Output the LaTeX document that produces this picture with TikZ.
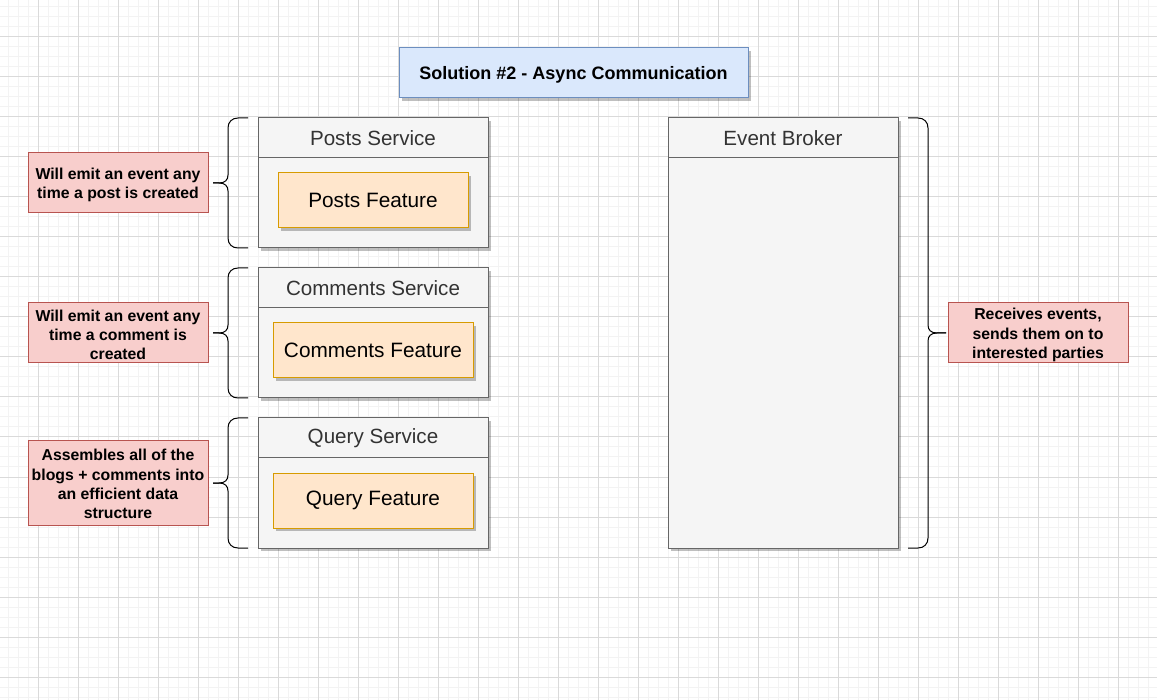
\documentclass[tikz,border=0pt]{standalone}
\usepackage{fontspec}
\setmainfont{Liberation Sans}
\usetikzlibrary{shadows}
\definecolor{gridminor}{HTML}{F3F3F3}
\definecolor{gridmajor}{HTML}{DADADA}
\definecolor{titlefill}{HTML}{DAE8FC}
\definecolor{titleborder}{HTML}{6C8EBF}
\definecolor{svcfill}{HTML}{F5F5F5}
\definecolor{svcborder}{HTML}{666666}
\definecolor{svctext}{HTML}{333333}
\definecolor{featfill}{HTML}{FFE6CC}
\definecolor{featborder}{HTML}{D79B00}
\definecolor{notefill}{HTML}{F8CECC}
\definecolor{noteborder}{HTML}{B85450}
\begin{document}
\begin{tikzpicture}[x=1pt,y=-1pt,
  shadowed/.style={drop shadow={shadow xshift=3pt,shadow yshift=-3pt,fill=black,opacity=0.25}},
  titlebox/.style={shadowed,draw=titleborder,fill=titlefill,line width=1pt,outer sep=0pt,inner sep=0pt,
    minimum width=349pt,minimum height=50pt,anchor=north west},
  titletext/.style={font=\fontsize{18}{22}\selectfont\bfseries,inner sep=0pt},
  svcbox/.style={shadowed,draw=svcborder,fill=svcfill,line width=1pt,outer sep=0pt,inner sep=0pt,
    minimum width=230pt,anchor=north west},
  svcline/.style={draw=svcborder,line width=1pt},
  svctitle/.style={text=svctext,font=\fontsize{20.6}{24}\selectfont,inner sep=0pt},
  featbox/.style={shadowed,draw=featborder,fill=featfill,line width=1pt,outer sep=0pt,inner sep=0pt,
    minimum height=55pt,font=\fontsize{20.8}{24}\selectfont,anchor=north west},
  notebox/.style={draw=noteborder,fill=notefill,line width=1pt,outer sep=0pt,inner sep=0pt,
    minimum width=180pt,anchor=north west},
  notetext/.style={align=center,font=\fontsize{15.8}{19.2}\selectfont\bfseries,inner sep=0pt},
  brace/.style={draw=black,line width=1pt}]
\useasboundingbox (0,0) rectangle (1157,700);
\fill[white] (0,0) rectangle (1157,700);
% grid
\foreach \x in {8,18,...,1158} \draw[gridminor,line width=1pt] (\x,0) -- (\x,700);
\foreach \y in {7,17,...,697} \draw[gridminor,line width=1pt] (0,\y) -- (1157,\y);
\foreach \x in {38,78,...,1158} \draw[gridmajor,line width=1pt] (\x,0) -- (\x,700);
\foreach \y in {37,77,...,677} \draw[gridmajor,line width=1pt] (0,\y) -- (1157,\y);

% title
\node[titlebox] (title) at (399,48) {};
\node[titletext] (titleT) at ([yshift=-2pt]title.center) {Solution \#2 - Async Communication};

% services
\node[svcbox,minimum height=130pt] (posts) at (258,118) {};
\node[svcbox,minimum height=130pt] (comments) at (258,268) {};
\node[svcbox,minimum height=130pt] (query) at (258,418) {};
\node[svcbox,minimum height=430pt] (broker) at (668,118) {};
\foreach \s in {posts,comments,query,broker}
  \draw[svcline] ([yshift=-40pt]\s.north west) -- ([yshift=-40pt]\s.north east);
\node[svctitle] (postsT) at ([yshift=-20pt]posts.north) {Posts Service};
\node[svctitle] (commentsT) at ([yshift=-20pt]comments.north) {Comments Service};
\node[svctitle] (queryT) at ([yshift=-20pt]query.north) {Query Service};
\node[svctitle] (brokerT) at ([yshift=-20pt]broker.north) {Event Broker};

% features
\node[featbox,minimum width=190pt] (postsF) at (278,173) {Posts Feature};
\node[featbox,minimum width=200pt] (commentsF) at (273,323) {Comments Feature};
\node[featbox,minimum width=200pt] (queryF) at (273,473) {Query Feature};

% notes
\node[notebox,minimum height=60pt] (n1) at (28,153) {};
\node[notetext] (n1T) at ([yshift=-2pt]n1.center) {Will emit an event any\\time a post is created};
\node[notebox,minimum height=60pt] (n2) at (28,303) {};
\node[notetext] (n2T) at ([yshift=-2pt]n2.center) {Will emit an event any\\time a comment is\\created};
\node[notebox,minimum height=84pt] (n3) at (28,441) {};
\node[notetext] (n3T) at ([yshift=-1pt]n3.center) {Assembles all of the\\blogs + comments into\\an efficient data\\structure};
\node[notebox,minimum height=60pt] (n4) at (948,303) {};
\node[notetext] (n4T) at ([yshift=-2pt]n4.center) {Receives events,\\sends them on to\\interested parties};

% left braces
\foreach \t in {118,268,418} {
  \draw[brace] (248,\t) -- (238,\t) .. controls (232,\t) and (228,\t+4) .. (228,\t+10)
    -- (228,\t+57) .. controls (228,\t+62) and (225,\t+65) .. (219,\t+65) -- (213,\t+65);
  \draw[brace] (213,\t+65) -- (219,\t+65) .. controls (225,\t+65) and (228,\t+68) .. (228,\t+73)
    -- (228,\t+120) .. controls (228,\t+126) and (232,\t+130) .. (238,\t+130) -- (248,\t+130);
}
% right brace
\draw[brace] (908,118) -- (918,118) .. controls (924,118) and (928,122) .. (928,128)
  -- (928,325) .. controls (928,330) and (931,333) .. (937,333) -- (946,333);
\draw[brace] (946,333) -- (937,333) .. controls (931,333) and (928,336) .. (928,341)
  -- (928,538) .. controls (928,544) and (924,548) .. (918,548) -- (908,548);
\end{tikzpicture}
\end{document}
